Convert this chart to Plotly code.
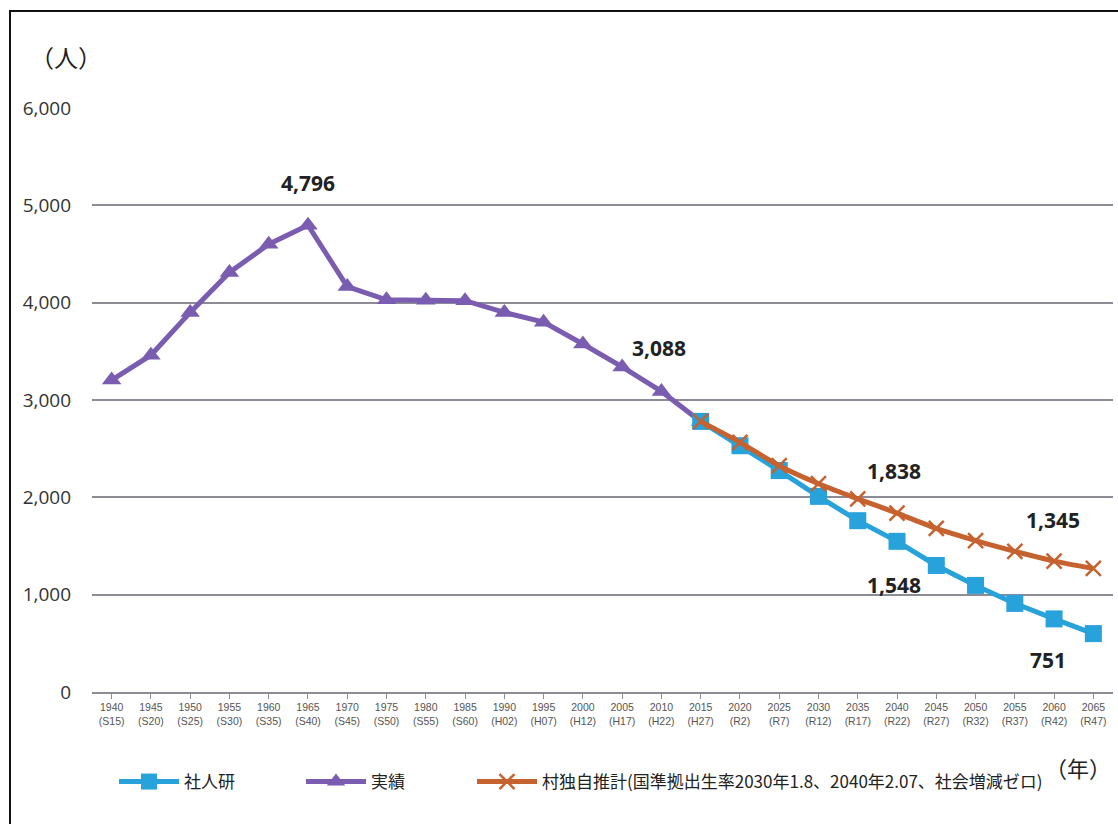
import plotly.graph_objects as go

years = [1940, 1945, 1950, 1955, 1960, 1965, 1970, 1975, 1980, 1985, 1990, 1995, 2000,
         2005, 2010, 2015, 2020, 2025, 2030, 2035, 2040, 2045, 2050, 2055, 2060, 2065]
era_labels = ["S15", "S20", "S25", "S30", "S35", "S40", "S45", "S50", "S55", "S60", "H02", "H07", "H12",
              "H17", "H22", "H27", "R2", "R7", "R12", "R17", "R22", "R27", "R32", "R37", "R42", "R47"]

actual_years = years[:16]
actual_vals = [3205, 3460, 3900, 4310, 4600, 4796, 4165, 4030, 4025, 4020, 3900, 3800, 3575,
               3340, 3088, 2780]

proj_years = years[15:]
ipss_vals = [2780, 2530, 2275, 2010, 1760, 1548, 1300, 1095, 910, 751, 600]
village_vals = [2780, 2565, 2325, 2140, 1985, 1838, 1680, 1555, 1445, 1345, 1270]

name_ipss = "社人研"
name_actual = "実績"
name_village = "村独自推計(国準拠出生率2030年1.8、2040年2.07、社会増減ゼロ)"

BLUE = "#27a2da"
PURPLE = "#7a5db0"
ORANGE = "#c6622f"

ticktext = [f"{y}<br>({e})" for y, e in zip(years, era_labels)]

L, R, T, B = 92, 5, 108, 132
W, H = 1118, 824
pw, ph = W - L - R, H - T - B


def px(xp):
    return (xp - L) / pw


def py(yp):
    return (H - B - yp) / ph


fig = go.Figure()
fig.add_trace(go.Scatter(x=actual_years, y=actual_vals, name=name_actual, mode="lines+markers",
                         line=dict(color=PURPLE, width=5),
                         marker=dict(symbol="triangle-up", size=17, color=PURPLE),
                         legend="legend2"))
fig.add_trace(go.Scatter(x=proj_years, y=ipss_vals, name=name_ipss, mode="lines+markers",
                         line=dict(color=BLUE, width=5),
                         marker=dict(symbol="square", size=17, color=BLUE),
                         legend="legend"))
fig.add_trace(go.Scatter(x=proj_years, y=village_vals, name=name_village, mode="lines+markers",
                         line=dict(color=ORANGE, width=5, shape="spline", smoothing=0.6),
                         marker=dict(symbol="x-thin", size=15, color=ORANGE,
                                     line=dict(color=ORANGE, width=2.5)),
                         legend="legend3"))

label_font = dict(family="Noto Sans, Open Sans, sans-serif", size=21, color="#222222")
labels = [
    (1965, 4796, 42, 0), (2010, 3088, 43, -2), (2040, 1838, 42, -3),
    (2040, 1548, -44, -3), (2060, 1345, 41, -1), (2060, 751, -41, -6),
]
for x, y, ys, xs in labels:
    fig.add_annotation(x=x, y=y, text=f"<b>{y:,}</b>", showarrow=False, font=label_font,
                       yshift=ys, xshift=xs)

fig.add_annotation(xref="paper", yref="paper", x=px(66), y=py(56), xanchor="center",
                   yanchor="middle", text="（人）", showarrow=False,
                   font=dict(family="Noto Sans CJK JP", size=24, color="#222"))
fig.add_annotation(xref="paper", yref="paper", x=px(1078), y=py(767), xanchor="center",
                   yanchor="middle", text="（年）", showarrow=False,
                   font=dict(family="Noto Sans CJK JP", size=22, color="#222"))

fig.add_shape(type="rect", xref="paper", yref="paper", x0=px(10), x1=px(1130), y0=py(840),
              y1=py(11), line=dict(color="#111111", width=2), layer="above")

leg_common = dict(orientation="h", yanchor="middle", xanchor="left", itemwidth=60,
                  font=dict(size=17, color="#222", family="Noto Sans CJK JP"),
                  bgcolor="rgba(0,0,0,0)")
fig.update_layout(
    width=W, height=H,
    margin=dict(l=L, r=R, t=T, b=B),
    paper_bgcolor="white", plot_bgcolor="white",
    font=dict(family="Noto Sans CJK JP, Noto Sans, sans-serif", color="#222"),
    showlegend=True,
    legend=dict(x=px(114), y=py(782), **leg_common),
    legend2=dict(x=px(301), y=py(782), **leg_common),
    legend3=dict(x=px(472), y=py(782), **leg_common),
)
fig.update_xaxes(range=[1937.5, 2067.5], tickmode="array", tickvals=years, ticktext=ticktext,
                 showgrid=False, showline=True, linecolor="#8c8c96", linewidth=1.5,
                 ticks="outside", ticklen=5, tickcolor="#8c8c96",
                 tickfont=dict(size=10.5, color="#555", family="Liberation Sans"), zeroline=False)
fig.update_yaxes(range=[0, 6000], tickvals=[0, 1000, 2000, 3000, 4000, 5000, 6000],
                 tickformat=",", showgrid=True, gridcolor="#8c8c96", gridwidth=1.8,
                 zeroline=False, showline=False, ticks="", ticklabelstandoff=20,
                 tickfont=dict(size=19, color="#333", family="Open Sans"))

fig.write_html("out.html")
